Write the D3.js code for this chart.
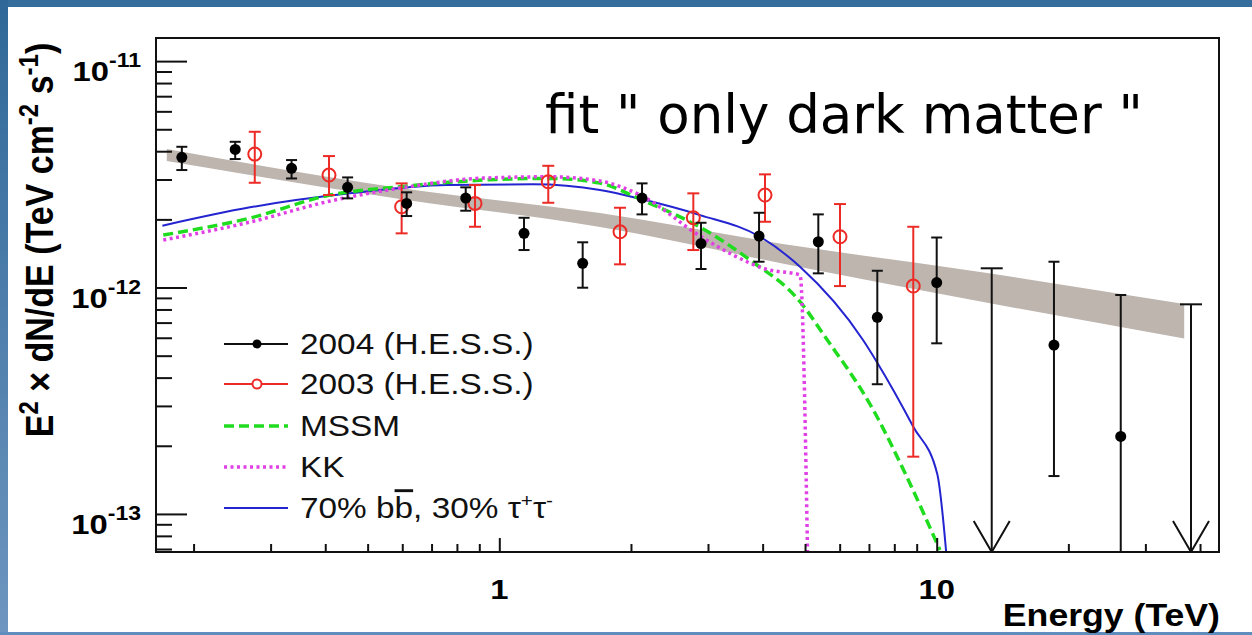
<!DOCTYPE html>
<html>
<head>
<meta charset="utf-8">
<script src="https://cdn.jsdelivr.net/npm/d3@7"></script>
<style>
  body { margin: 0; background: #fff; }
  svg { display: block; }
</style>
</head>
<body>
<div id="chart"></div>
<script>
// H.E.S.S. 2004 points (TeV, E^2 dN/dE)
var e2004 = [0.188, 0.249, 0.335, 0.45, 0.614, 0.838, 1.139, 1.551, 2.12, 2.892, 3.925, 5.362, 7.315, 10.0, 18.54, 26.35];
var f2004 = [3.757e-12, 4.075e-12, 3.36e-12, 2.77e-12, 2.353e-12, 2.484e-12, 1.735e-12, 1.279e-12, 2.484e-12, 1.564e-12, 1.688e-12, 1.593e-12, 7.39e-13, 1.052e-12, 5.57e-13, 2.2e-13];
var hi2004 = [4.184e-12, 4.402e-12, 3.656e-12, 3.064e-12, 2.633e-12, 2.77e-12, 2.033e-12, 1.584e-12, 2.884e-12, 1.932e-12, 2.139e-12, 2.104e-12, 1.186e-12, 1.663e-12, 1.3e-12, 9.27e-13];
var lo2004 = [3.303e-12, 3.693e-12, 3.032e-12, 2.476e-12, 2.069e-12, 2.184e-12, 1.464e-12, 0.998e-12, 2.104e-12, 1.207e-12, 1.3e-12, 1.155e-12, 3.74e-13, 5.67e-13, 1.47e-13, 1e-14];
// 2004 upper limits
var ulE = [13.36, 38.14];
var ulF = [1.216e-12, 8.43e-13];

// H.E.S.S. 2003 points
var e2003 = [0.276, 0.408, 0.598, 0.88, 1.294, 1.888, 2.777, 4.05, 6.01, 8.84];
var f2003 = [3.885e-12, 3.139e-12, 2.274e-12, 2.353e-12, 2.932e-12, 1.763e-12, 2.033e-12, 2.561e-12, 1.676e-12, 1.015e-12];
var hi2003 = [4.874e-12, 3.807e-12, 2.884e-12, 2.835e-12, 3.449e-12, 2.251e-12, 2.606e-12, 3.161e-12, 2.337e-12, 1.855e-12];
var lo2003 = [2.902e-12, 2.561e-12, 1.735e-12, 1.855e-12, 2.368e-12, 1.266e-12, 1.464e-12, 1.952e-12, 1.015e-12, 1.79e-13];

// power-law fit band
var bandE = [0.1737, 0.593, 1.699, 4.87, 11.92, 36.8];
var bandHi = [4.088e-12, 2.75e-12, 2.133e-12, 1.517e-12, 1.189e-12, 8.45e-13];
var bandLo = [3.618e-12, 2.459e-12, 1.85e-12, 1.232e-12, 8.85e-13, 5.95e-13];

// model curves
var mssmE = [0.1705, 0.2692, 0.4102, 0.5929, 0.9192, 1.306, 1.699, 2.12, 2.953, 3.742, 4.87, 5.555, 7.163, 8.54, 10.17];
var mssmF = [1.705e-12, 2.027e-12, 2.561e-12, 2.786e-12, 2.983e-12, 3.033e-12, 2.892e-12, 2.434e-12, 1.794e-12, 1.323e-12, 8.66e-13, 6.064e-13, 2.878e-13, 1.461e-13, 6.93e-14];
var kkE = [0.1705, 0.2692, 0.4102, 0.5929, 0.9192, 1.306, 1.699, 2.12, 2.876, 3.422, 4.087, 4.87, 5.08];
var kkF = [1.621e-12, 1.946e-12, 2.409e-12, 2.75e-12, 3.043e-12, 3.084e-12, 2.953e-12, 2.535e-12, 1.688e-12, 1.392e-12, 1.203e-12, 1.136e-12, 5e-14];
var bbE = [0.1697, 0.2692, 0.4556, 0.7581, 1.194, 1.699, 2.12, 2.876, 3.945, 4.87, 6.785, 7.291, 8.84, 10.03, 10.57];
var bbF = [1.875e-12, 2.26e-12, 2.606e-12, 2.835e-12, 2.855e-12, 2.695e-12, 2.452e-12, 2.089e-12, 1.676e-12, 1.235e-12, 5.864e-13, 4.705e-13, 2.428e-13, 1.502e-13, 6e-14];

var xMajor = [1, 10];
var xMinor = [0.2, 0.3, 0.4, 0.5, 0.6, 0.7, 0.8, 0.9, 2, 3, 4, 5, 6, 7, 8, 9, 20, 30, 40];
var yMajor = [1e-13, 1e-12, 1e-11];
var yMajorExp = ["-13", "-12", "-11"];
var yMinor = [7e-14, 8e-14, 9e-14, 2e-13, 3e-13, 4e-13, 5e-13, 6e-13, 7e-13, 8e-13, 9e-13,
  2e-12, 3e-12, 4e-12, 5e-12, 6e-12, 7e-12, 8e-12, 9e-12];

var width = 1252, height = 635;
var margin = { top: 38, right: 33, bottom: 83, left: 156 };
var stretch = 1.15;

var svg = d3.select("#chart").append("svg").attr("width", width).attr("height", height);
var x = d3.scaleLog([0.1641, 44.2], [margin.left, width - margin.right]);
var y = d3.scaleLog([6.79e-14, 1.265e-11], [height - margin.bottom, margin.top]);
var bottom = y.range()[0];

function zip(a, b) {
  return a.map(function (d, i) { return [d, b[i]]; });
}
function place(tx, ty) {
  return "translate(" + tx + "," + ty + ") scale(" + stretch + ",1)";
}

// slide frame
var defs = svg.append("defs");
var grad = defs.append("linearGradient").attr("id", "side").attr("x1", 0).attr("y1", 0).attr("x2", 0).attr("y2", 1);
grad.append("stop").attr("offset", "0%").attr("stop-color", "#2f6898");
grad.append("stop").attr("offset", "100%").attr("stop-color", "#6e95c0");
defs.append("clipPath").attr("id", "plot").append("rect")
  .attr("x", margin.left).attr("y", margin.top)
  .attr("width", width - margin.left - margin.right)
  .attr("height", height - margin.top - margin.bottom);

svg.append("rect").attr("width", width).attr("height", height).attr("fill", "#fff");
svg.append("rect").attr("width", width).attr("height", 7).attr("fill", "#356d9d");
svg.append("rect").attr("width", 8).attr("height", height).attr("fill", "url(#side)");
svg.append("rect").attr("y", 632).attr("width", width).attr("height", 3).attr("fill", "#5f8dbd");

var plot = svg.append("g").attr("clip-path", "url(#plot)");

// fit band
plot.append("path")
  .datum(bandE.map(function (e, i) { return { e: e, lo: bandLo[i], hi: bandHi[i] }; }))
  .attr("fill", "#bdb5ae")
  .attr("d", d3.area()
    .x(function (d) { return x(d.e); })
    .y0(function (d) { return y(d.lo); })
    .y1(function (d) { return y(d.hi); })
    .curve(d3.curveMonotoneX));

// model curves
var line = d3.line()
  .x(function (d) { return x(d[0]); })
  .y(function (d) { return y(d[1]); })
  .curve(d3.curveMonotoneX);
var curves = [
  { data: zip(bbE, bbF), color: "#2424d0", width: 2, dash: null },
  { data: zip(mssmE, mssmF), color: "#1fdc1f", width: 3.5, dash: "10,5" },
  { data: zip(kkE, kkF), color: "#e040e6", width: 3.5, dash: "3,3.5" }
];
plot.selectAll("path.curve")
  .data(curves)
  .join("path")
  .attr("class", "curve")
  .attr("fill", "none")
  .attr("stroke", function (d) { return d.color; })
  .attr("stroke-width", function (d) { return d.width; })
  .attr("stroke-dasharray", function (d) { return d.dash; })
  .attr("d", function (d) { return line(d.data); });

// error bars
function errorBars(E, F, lo, hi, color, cap) {
  var g = plot.append("g").attr("stroke", color).attr("stroke-width", 2);
  var pts = E.map(function (e, i) { return { e: e, f: F[i], lo: lo[i], hi: hi[i] }; });
  g.selectAll("line.bar").data(pts).join("line")
    .attr("x1", function (d) { return x(d.e); })
    .attr("x2", function (d) { return x(d.e); })
    .attr("y1", function (d) { return y(d.lo); })
    .attr("y2", function (d) { return y(d.hi); });
  ["lo", "hi"].forEach(function (k) {
    g.selectAll("line.cap" + k).data(pts).join("line")
      .attr("x1", function (d) { return x(d.e) - cap; })
      .attr("x2", function (d) { return x(d.e) + cap; })
      .attr("y1", function (d) { return y(d[k]); })
      .attr("y2", function (d) { return y(d[k]); });
  });
  return pts;
}
var red = errorBars(e2003, f2003, lo2003, hi2003, "#ec2b26", 6);
plot.append("g").selectAll("circle").data(red).join("circle")
  .attr("cx", function (d) { return x(d.e); })
  .attr("cy", function (d) { return y(d.f); })
  .attr("r", 6.5)
  .attr("fill", "none")
  .attr("stroke", "#ec2b26")
  .attr("stroke-width", 2);

var black = errorBars(e2004, f2004, lo2004, hi2004, "#111", 5.5);
plot.append("g").selectAll("circle").data(black).join("circle")
  .attr("cx", function (d) { return x(d.e); })
  .attr("cy", function (d) { return y(d.f); })
  .attr("r", 5.5)
  .attr("fill", "#000");

// upper limits
var ul = plot.append("g").attr("stroke", "#111").attr("stroke-width", 2).attr("fill", "none")
  .selectAll("g").data(zip(ulE, ulF)).join("g");
ul.append("line")
  .attr("x1", function (d) { return x(d[0]); })
  .attr("x2", function (d) { return x(d[0]); })
  .attr("y1", function (d) { return y(d[1]); })
  .attr("y2", bottom);
ul.append("line")
  .attr("x1", function (d) { return x(d[0]) - 11; })
  .attr("x2", function (d) { return x(d[0]) + 11; })
  .attr("y1", function (d) { return y(d[1]); })
  .attr("y2", function (d) { return y(d[1]); });
ul.append("path")
  .attr("d", function (d) {
    var cx = x(d[0]);
    return "M" + (cx - 18) + "," + (bottom - 31) + "L" + cx + "," + bottom + "L" + (cx + 18) + "," + (bottom - 31);
  });

// axes
function tickAxis(axis, values, size) {
  return axis.tickValues(values).tickSize(-size).tickSizeOuter(0).tickFormat("");
}
[[xMajor, 14], [xMinor, 8]].forEach(function (t) {
  var g = svg.append("g").attr("transform", "translate(0," + bottom + ")")
    .call(tickAxis(d3.axisBottom(x), t[0], t[1]));
  g.select(".domain").remove();
  g.selectAll("line").attr("stroke", "#111").attr("stroke-width", 2);
});
[[yMajor, 31], [yMinor, 16]].forEach(function (t) {
  var g = svg.append("g").attr("transform", "translate(" + margin.left + ",0)")
    .call(tickAxis(d3.axisLeft(y), t[0], t[1]));
  g.select(".domain").remove();
  g.selectAll("line").attr("stroke", "#111").attr("stroke-width", 2);
});
svg.append("rect")
  .attr("x", margin.left).attr("y", margin.top)
  .attr("width", width - margin.left - margin.right)
  .attr("height", height - margin.top - margin.bottom)
  .attr("fill", "none").attr("stroke", "#111").attr("stroke-width", 2);

// tick labels
var font = "'Liberation Sans', Arial, Helvetica, sans-serif";
svg.append("g").selectAll("text").data(yMajor).join("text")
  .attr("transform", function (d) { return place(141, y(d) + 20); })
  .attr("text-anchor", "end")
  .attr("font-family", font).attr("font-weight", "bold").attr("font-size", 28.5)
  .each(function (d, i) {
    var t = d3.select(this);
    t.append("tspan").text("10");
    t.append("tspan").attr("dy", -14).attr("font-size", 20).text(yMajorExp[i]);
  });
svg.append("g").selectAll("text").data(xMajor).join("text")
  .attr("transform", function (d) { return place(x(d), 599); })
  .attr("text-anchor", "middle")
  .attr("font-family", font).attr("font-weight", "bold").attr("font-size", 28.5)
  .text(function (d) { return d; });

// axis titles
svg.append("text")
  .attr("transform", place(1220, 626))
  .attr("text-anchor", "end")
  .attr("font-family", font).attr("font-weight", "bold").attr("font-size", 31)
  .text("Energy (TeV)");
var yt = svg.append("text")
  .attr("transform", "translate(53,240) scale(" + stretch + ",1) rotate(-90)")
  .attr("text-anchor", "middle")
  .attr("font-family", font).attr("font-weight", "bold").attr("font-size", 34);
yt.append("tspan").text("E");
yt.append("tspan").attr("dy", -13).attr("font-size", 24).text("2");
yt.append("tspan").attr("dy", 13).text(" \u00d7 dN/dE (TeV cm");
yt.append("tspan").attr("dy", -13).attr("font-size", 24).text("-2");
yt.append("tspan").attr("dy", 13).text(" s");
yt.append("tspan").attr("dy", -13).attr("font-size", 24).text("-1");
yt.append("tspan").attr("dy", 13).text(")");

// legend
var legendNames = ["2004 (H.E.S.S.)", "2003 (H.E.S.S.)", "MSSM", "KK", "70% b"];
var legendY = [344, 384, 426, 467, 508];
var legendStyle = [
  { color: "#111", width: 2, dash: null, marker: "fill" },
  { color: "#ec2b26", width: 2, dash: null, marker: "open" },
  { color: "#1fdc1f", width: 3.5, dash: "10,5", marker: null },
  { color: "#e040e6", width: 3.5, dash: "3,3.5", marker: null },
  { color: "#2424d0", width: 2, dash: null, marker: null }
];
var leg = svg.append("g").selectAll("g").data(legendNames).join("g")
  .attr("transform", function (d, i) { return "translate(0," + legendY[i] + ")"; });
leg.append("line")
  .attr("x1", 224).attr("x2", 288)
  .attr("stroke", function (d, i) { return legendStyle[i].color; })
  .attr("stroke-width", function (d, i) { return legendStyle[i].width; })
  .attr("stroke-dasharray", function (d, i) { return legendStyle[i].dash; });
leg.filter(function (d, i) { return legendStyle[i].marker; }).append("circle")
  .attr("cx", 257).attr("r", 4.5)
  .attr("fill", function (d, i) { return i === 0 ? "#000" : "#fff"; })
  .attr("stroke", function (d, i) { return i === 0 ? "none" : "#ec2b26"; })
  .attr("stroke-width", 2);
leg.append("text")
  .attr("transform", place(300, 10))
  .attr("font-family", font).attr("font-size", 29).attr("fill", "#111")
  .text(function (d) { return d; });
var last = leg.filter(function (d, i) { return i === 4; }).select("text");
last.append("tspan").style("text-decoration", "overline").text("b");
last.append("tspan").text(", 30% \u03c4");
last.append("tspan").attr("dy", -11).attr("font-size", 18).text("+");
last.append("tspan").attr("dy", 11).text("\u03c4");
last.append("tspan").attr("dy", -11).attr("font-size", 18).text("-");

// slide annotation
svg.append("text")
  .attr("x", 545).attr("y", 133)
  .attr("font-family", "'DejaVu Sans', Verdana, sans-serif").attr("font-size", 53)
  .attr("fill", "#000")
  .text("fit \" only dark matter \"");
</script>
</body>
</html>
